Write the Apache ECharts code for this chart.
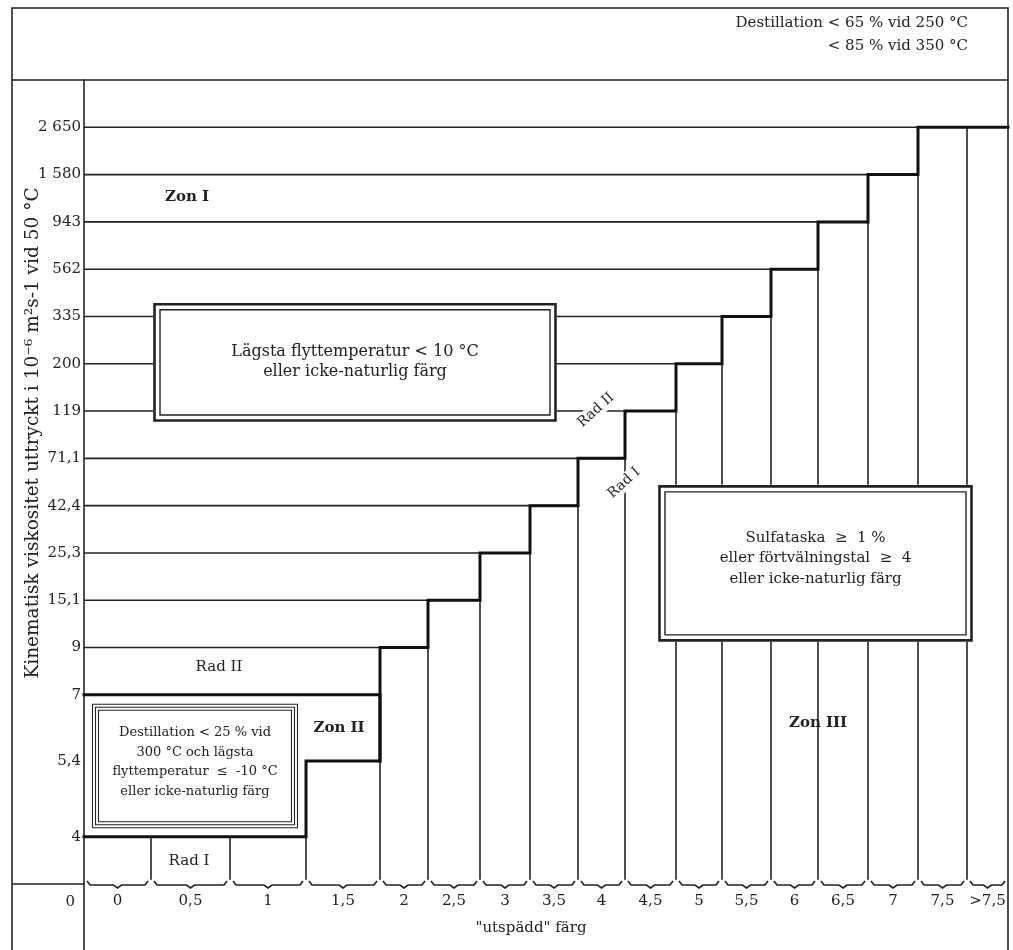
<!DOCTYPE html>
<html><head><meta charset="utf-8">
<script src="https://cdn.jsdelivr.net/npm/echarts@6/dist/echarts.min.js"></script>
<style>html,body{margin:0;padding:0;background:#fff}#c{width:1013px;height:950px}</style>
</head><body><div id="c"></div>
<script>
// ---------- data ----------
const categories = ['0','0,5','1','1,5','2','2,5','3','3,5','4','4,5','5','5,5','6','6,5','7','7,5','>7,5'];
const levels = [0, 4, 5.4, 7, 9, 15.1, 25.3, 42.4, 71.1, 119, 200, 335, 562, 943, 1580, 2650];
const levelLabels = ['0','4','5,4','7','9','15,1','25,3','42,4','71,1','119','200','335','562','943','1 580','2 650'];
// upper limit of Zone III for each colour class
const zone3Top = [4, 4, 4, 5.4, 9, 15.1, 25.3, 42.4, 71.1, 119, 200, 335, 562, 943, 1580, 2650, 2650];
// upper limit of Zone II (colour classes 0 … 1,5)
const zone2Top = [7, 7, 7, 7];
const boxTexts = [
  'Lägsta flyttemperatur < 10 °C\neller icke-naturlig färg',
  'Destillation < 25 % vid\n300 °C och lägsta\nflyttemperatur  ≤  -10 °C\neller icke-naturlig färg',
  'Sulfataska  ≥  1 %\neller förtvälningstal  ≥  4\neller icke-naturlig färg'
];
const annoTexts = ['Zon I', 'Zon II', 'Zon III', 'Rad II', 'Rad I', 'Rad II', 'Rad I'];
const titleText = 'Destillation < 65 % vid 250 °C\n< 85 % vid 350 °C';
const yName = 'Kinematisk viskositet uttryckt i 10⁻⁶ m²s-1 vid 50 °C';
const xName = '"utspädd" färg';

// ---------- layout (axis scale, non-uniform as in the original) ----------
const levelPos = [0, 1, 2.6, 4, 5, 6, 7, 8, 9, 10, 11, 12, 13, 14, 15, 16];
const colWidths = [67, 79, 76, 74, 48, 52, 50, 48, 47, 51, 46, 49, 47, 50, 50, 49, 41];
// boxes: [x1, top, x2, bottom, borders, fontSize, lineHeight, dy]
const boxLayout = [
  [69, 12.29, 473, 9.77, 2, 16, 20, -1],
  [8, 3.81, 214, 1.18, 3, 13, 19.5, -4],
  [574, 8.44, 889, 5.12, 2, 15, 20.5, -5]
];
// annotations: [x, yPos, rotationDeg, fontSize, bold, whiteBg]
const annoLayout = [
  [103, 14.53, 0, 15, 1, 0],
  [255, 3.30, 0, 15, 1, 0],
  [734, 3.40, 0, 15, 1, 0],
  [135, 4.59, 0, 15, 0, 0],
  [105, 0.49, 0, 15, 0, 0],
  [512, 10.02, 42, 14, 0, 1],
  [540, 8.48, 42, 14, 0, 1]
];

const FONT = 'DejaVu Serif';
const INK = '#222';

const colEdges = [0];
colWidths.forEach(w => colEdges.push(colEdges[colEdges.length - 1] + w));
const colCenters = categories.map((_, i) => (colEdges[i] + colEdges[i + 1]) / 2);
const XMAX = colEdges[colEdges.length - 1];
const posOf = v => levelPos[levels.indexOf(v)];
const YBOT = 0.09;

// thin level lines
const thinLines = [];
levels.forEach((L, i) => {
  if (L === 0) return;
  if (L > zone3Top[0] && L < zone2Top[0]) return; // inside Zone II
  let last = -1;
  zone3Top.forEach((t, c) => { if (t === L) last = c; });
  zone2Top.forEach((t, c) => { if (t === L && c > last) last = c; });
  if (last < 0) return;
  thinLines.push({ coords: [[0, levelPos[i]], [colEdges[last + 1], levelPos[i]]] });
});
// column separators
for (let c = 0; c < categories.length - 1; c++) {
  const top = Math.max(posOf(zone3Top[c]), posOf(zone3Top[c + 1]));
  thinLines.push({ coords: [[colEdges[c + 1], YBOT], [colEdges[c + 1], top]] });
}
// thick boundaries
const stair = [];
zone3Top.forEach((t, c) => { stair.push([colEdges[c], posOf(t)], [colEdges[c + 1], posOf(t)]); });
const z2 = zone2Top.length;
const thickLines = [
  { coords: stair },
  { coords: [[0, posOf(zone2Top[0])], [colEdges[z2], posOf(zone2Top[z2 - 1])], [colEdges[z2], posOf(zone3Top[z2 - 1])]] }
];

const chart = echarts.init(document.getElementById('c'));
chart.setOption({
  animation: false,
  backgroundColor: '#fff',
  grid: { left: 84, right: 5, top: 80, bottom: 66 },
  xAxis: {
    type: 'value', min: 0, max: XMAX,
    axisLine: { show: false }, axisTick: { show: false }, splitLine: { show: false },
    axisLabel: {
      customValues: colCenters, margin: 10,
      fontFamily: FONT, fontSize: 15, color: INK,
      formatter: v => {
        let best = 0;
        colCenters.forEach((c, i) => { if (Math.abs(c - v) < Math.abs(colCenters[best] - v)) best = i; });
        return categories[best];
      }
    },
    name: xName, nameLocation: 'middle', nameGap: 37,
    nameTextStyle: { fontFamily: FONT, fontSize: 15, color: INK, padding: [0, 30, 0, 0] }
  },
  yAxis: {
    type: 'value', min: 0, max: 17,
    axisLine: { show: true, lineStyle: { color: INK, width: 1.6 } },
    axisTick: { show: false }, splitLine: { show: false },
    axisLabel: {
      customValues: levelPos, margin: 3,
      fontFamily: FONT, fontSize: 15, color: INK,
      formatter: v => {
        const i = levelPos.findIndex(p => Math.abs(p - v) < 1e-6);
        if (i < 0) return '';
        return i === 0 ? '{z|' + levelLabels[i] + '}' : levelLabels[i];
      },
      rich: { z: { fontFamily: FONT, fontSize: 15, color: INK, padding: [36, 6, 0, 0] } }
    },
    name: yName, nameLocation: 'middle', nameGap: 41, nameMoveOverlap: false,
    nameTextStyle: { fontFamily: FONT, fontSize: 18.5, color: INK, padding: [0, 0, 0, 98] }
  },
  graphic: [
    { type: 'rect', silent: true, z: 0, shape: { x: 12, y: 8, width: 996, height: 1000 }, style: { fill: 'none', stroke: INK, lineWidth: 1.6 } },
    { type: 'line', silent: true, shape: { x1: 12, y1: 80, x2: 1008, y2: 80 }, style: { stroke: INK, lineWidth: 1.6 } },
    { type: 'line', silent: true, shape: { x1: 12, y1: 884, x2: 84, y2: 884 }, style: { stroke: INK, lineWidth: 1.6 } },
    { type: 'line', silent: true, shape: { x1: 84, y1: 884, x2: 84, y2: 950 }, style: { stroke: INK, lineWidth: 1.6 } },
    { type: 'text', silent: true, x: 968, y: 12, style: { text: titleText, align: 'right', verticalAlign: 'top', fontFamily: FONT, fontSize: 15, lineHeight: 23, fill: INK } }
  ],
  series: [
    {
      type: 'lines', coordinateSystem: 'cartesian2d', polyline: true, silent: true, z: 2,
      lineStyle: { color: INK, width: 1.6, opacity: 1 }, data: thinLines
    },
    {
      type: 'lines', coordinateSystem: 'cartesian2d', polyline: true, silent: true, z: 3,
      lineStyle: { color: '#111', width: 3, opacity: 1, join: 'miter', cap: 'square' }, data: thickLines
    },
    {
      type: 'custom', silent: true, z: 3, clip: false,
      data: categories.map((_, i) => [colEdges[i], colEdges[i + 1]]),
      renderItem: (params, api) => {
        const a = api.coord([api.value(0), 0]);
        const b = api.coord([api.value(1), 0]);
        const l = a[0] + 3, r = b[0] - 3, y = a[1] + 1, m = (l + r) / 2;
        return {
          type: 'polyline',
          shape: { points: [[l, y - 4], [l + 3, y], [m - 4, y], [m, y + 3], [m + 4, y], [r - 3, y], [r, y - 4]] },
          style: { stroke: INK, fill: null, lineWidth: 1.6 }
        };
      }
    },
    {
      type: 'custom', silent: true, z: 5, clip: false,
      data: boxLayout.map(b => [b[0], b[1], b[2], b[3]]),
      renderItem: (params, api) => {
        const B = boxLayout[params.dataIndex];
        const p1 = api.coord([api.value(0), api.value(1)]);
        const p2 = api.coord([api.value(2), api.value(3)]);
        const x = p1[0], y = p1[1], w = p2[0] - p1[0], h = p2[1] - p1[1];
        const children = [{ type: 'rect', shape: { x, y, width: w, height: h }, style: { fill: '#fff', stroke: null } }];
        if (B[4] === 2) {
          children.push({ type: 'rect', shape: { x: x + 1.5, y: y + 1.5, width: w - 3, height: h - 3 }, style: { fill: null, stroke: INK, lineWidth: 2.6 } });
          children.push({ type: 'rect', shape: { x: x + 7, y: y + 7, width: w - 14, height: h - 14 }, style: { fill: null, stroke: INK, lineWidth: 1.4 } });
        } else {
          [0.5, 3.5, 6.5].forEach(k => children.push({ type: 'rect', shape: { x: x + k, y: y + k, width: w - 2 * k, height: h - 2 * k }, style: { fill: null, stroke: INK, lineWidth: 1.1 } }));
        }
        children.push({
          type: 'text', x: x + w / 2, y: y + h / 2 + B[7],
          style: { text: boxTexts[params.dataIndex], align: 'center', verticalAlign: 'middle', fontFamily: FONT, fontSize: B[5], lineHeight: B[6], fill: INK }
        });
        return { type: 'group', children };
      }
    },
    {
      type: 'custom', silent: true, z: 6, clip: false,
      data: annoLayout.map(a => [a[0], a[1]]),
      renderItem: (params, api) => {
        const A = annoLayout[params.dataIndex];
        const p = api.coord([api.value(0), api.value(1)]);
        return {
          type: 'text', x: p[0], y: p[1], rotation: A[2] * Math.PI / 180,
          style: {
            text: annoTexts[params.dataIndex], align: 'center', verticalAlign: 'middle',
            fontFamily: FONT, fontSize: A[3], fontWeight: A[4] ? 'bold' : 'normal', fill: INK,
            backgroundColor: A[5] ? '#fff' : null, padding: A[5] ? [1, 3, 1, 3] : 0
          }
        };
      }
    }
  ]
});
</script>
</body></html>
